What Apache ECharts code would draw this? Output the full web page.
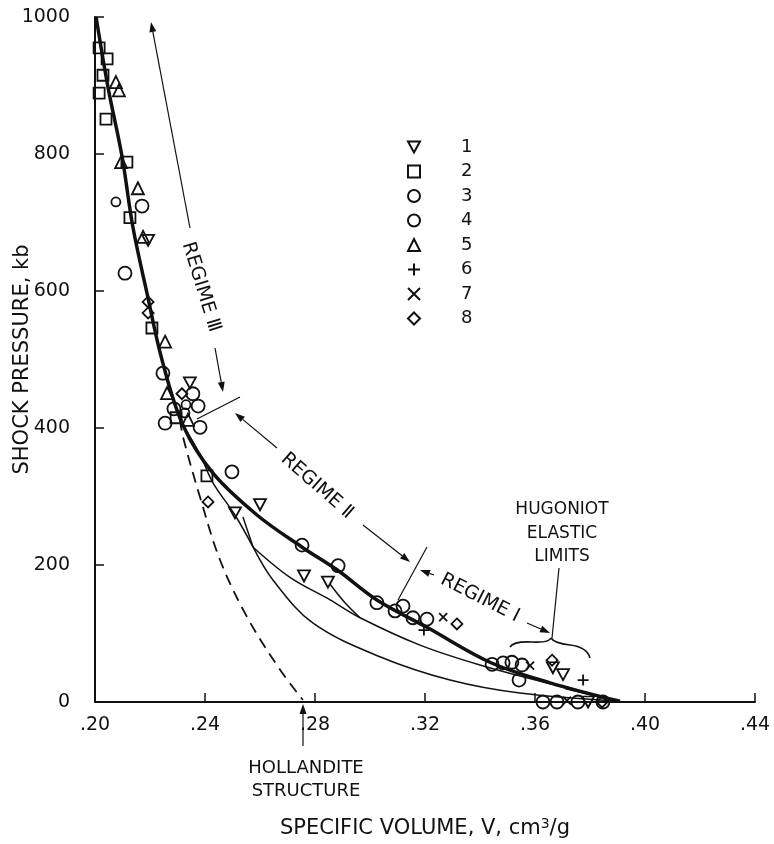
<!DOCTYPE html>
<html>
<head>
<meta charset="utf-8">
<script src="https://cdn.jsdelivr.net/npm/echarts@6/dist/echarts.min.js"></script>
<style>
  html, body { margin: 0; padding: 0; background: #fff; }
  #chart { width: 774px; height: 844px; }
</style>
</head>
<body>
<div id="chart"></div>
<script>
// specific volume (cm3/g) , shock pressure (kb)
const triDown = [[0.2345,466],[0.2509,276],[0.2600,288],[0.2760,184],[0.2847,175],[0.2193,674],[0.3665,50],[0.3702,40],[0.3793,0]];
const squares = [[0.2015,955],[0.2044,939],[0.2029,915],[0.2015,889],[0.2040,851],[0.2116,788],[0.2127,707],[0.2207,546],[0.2295,415],[0.2407,330]];
const bigCircles = [[0.2171,724],[0.2109,626],[0.2247,480],[0.2356,450],[0.2287,428],[0.2375,432],[0.2255,407],[0.2382,401],[0.2498,336],[0.2753,229],[0.2884,199],[0.3025,145],[0.3091,133],[0.3120,140],[0.3156,123],[0.3207,121],[0.3444,55],[0.3484,57],[0.3516,58],[0.3553,54],[0.3542,32],[0.3629,0],[0.3680,0],[0.3756,0],[0.3847,0]];
const smallCircles = [[0.2331,434],[0.2327,422],[0.2076,730]];
const triUp = [[0.2076,905],[0.2087,893],[0.2095,788],[0.2156,750],[0.2175,679],[0.2255,526],[0.2262,451],[0.2338,412]];
const plus = [[0.3196,105],[0.3775,32]];
const cross = [[0.3266,124],[0.3582,53],[0.3716,2]];
const diamonds = [[0.2193,584],[0.2193,568],[0.2316,450],[0.2411,292],[0.3316,114],[0.3662,61],[0.3844,0]];

// curves
const hugoniot = [[0.2004,1000],[0.2047,898],[0.2098,797],[0.2138,693],[0.2189,597],[0.2244,499],[0.2320,404],[0.2429,334],[0.2589,273],[0.2753,226],[0.2880,193],[0.3025,149],[0.3207,109],[0.3436,58],[0.3655,28],[0.3909,1]];
const fromJunction = [[0.2320,404],[0.2382,361],[0.2429,320],[0.2509,273],[0.2575,226]];
const releaseB = [[0.2538,270],[0.2575,226]];
const upperBranch = [[0.2575,226],[0.2709,182],[0.2855,149],[0.2964,123],[0.3182,83],[0.3400,54],[0.3662,26]];
const releaseC = [[0.2855,172],[0.2909,145],[0.2964,123]];
const lowerBranch = [[0.2575,226],[0.2647,178],[0.2793,115],[0.3036,66],[0.3291,32],[0.3545,13],[0.3909,1]];
const elasticSeg = [[0.3709,20],[0.3898,1.5]];
const hollandite = [[0.2309,412],[0.2320,387],[0.2382,299],[0.2455,207],[0.2553,124],[0.2673,47],[0.2756,3]];

const legendNames = ['1','2','3','4','5','6','7','8'];

const FONT = '"DejaVu Sans", sans-serif';
const ink = '#111';

const chart = echarts.init(document.getElementById('chart'));

const open = {color: 'rgba(255,255,255,0)', borderColor: ink, borderWidth: 1.8, opacity: 1};

function scatter(name, data, symbol, size){
    return {
        name: name, type: 'scatter', data: data, symbol: symbol, symbolSize: size,
        itemStyle: open, z: 5, silent: true
    };
}
function curve(data, width, dashed){
    return {
        type: 'line', data: data, smooth: 0.35, showSymbol: false, silent: true,
        lineStyle: {color: ink, width: width, type: dashed ? [11, 7] : 'solid'}, z: 3
    };
}

function arrow(x1, y1, x2, y2){
    const a = Math.atan2(y2 - y1, x2 - x1);
    const L = 10, W = 3.5;
    const bx = x2 - L * Math.cos(a), by = y2 - L * Math.sin(a);
    return [
        {type: 'line', shape: {x1: x1, y1: y1, x2: bx, y2: by}, style: {stroke: ink, lineWidth: 1.2}},
        {type: 'polygon', shape: {points: [[x2, y2],
            [bx + W * Math.sin(a), by - W * Math.cos(a)],
            [bx - W * Math.sin(a), by + W * Math.cos(a)]]}, style: {fill: ink}}
    ];
}
function seg(x1, y1, x2, y2){
    return {type: 'line', shape: {x1: x1, y1: y1, x2: x2, y2: y2}, style: {stroke: ink, lineWidth: 1.2}};
}
function bez(x1, y1, cx, cy, x2, y2){
    return {type: 'bezierCurve', shape: {x1: x1, y1: y1, cpx1: cx, cpy1: cy, x2: x2, y2: y2},
        style: {stroke: ink, fill: null, lineWidth: 1.6}};
}
function label(text, x, y, rot, size){
    return {type: 'text', x: x, y: y, rotation: rot || 0,
        style: {text: text, fill: ink, font: (size || 17) + 'px ' + FONT, align: 'center', verticalAlign: 'middle'}};
}

const graphics = [].concat(
    arrow(190, 228, 151, 22),
    label('REGIME Ⅲ', 201, 287, -1.27, 19),
    arrow(215, 348, 223, 392),
    seg(197, 419, 240, 397),
    arrow(277, 448, 235, 413),
    label('REGIME Ⅱ', 317, 486, -0.72, 19),
    arrow(363, 525, 410, 562),
    seg(427, 547, 398, 600),
    arrow(434, 575, 420, 570),
    label('REGIME Ⅰ', 480, 598, -0.47, 19),
    arrow(527, 623, 550, 633),
    label('HUGONIOT', 562, 510),
    label('ELASTIC', 562, 534),
    label('LIMITS', 562, 557),
    seg(559, 568, 552, 638),
    bez(510, 647, 514, 641, 532, 642),
    bez(532, 642, 549, 643, 551, 638),
    bez(551, 638, 554, 643, 570, 645),
    bez(570, 645, 587, 647, 590, 658),
    arrow(303, 746, 303, 704),
    label('HOLLANDITE', 306, 768, 0, 18),
    label('STRUCTURE', 306, 791, 0, 18)
);

chart.setOption({
    animation: false,
    backgroundColor: '#fff',
    grid: {left: 95, right: 19, top: 17, bottom: 142, outerBoundsMode: 'none', containLabel: false},
    legend: {
        data: legendNames,
        orient: 'vertical', left: 402, top: 133,
        itemWidth: 12, itemHeight: 12, itemGap: 6.5,
        textStyle: {fontFamily: FONT, fontSize: 18, color: ink, padding: [0, 0, 0, 36], lineHeight: 14},
        selectedMode: false
    },
    xAxis: {
        type: 'value', min: 0.2, max: 0.44, interval: 0.04,
        name: 'SPECIFIC VOLUME, V, cm{sup|3}/g',
        nameLocation: 'middle', nameGap: 115,
        nameTextStyle: {fontFamily: FONT, fontSize: 21, color: ink,
            rich: {sup: {fontFamily: FONT, fontSize: 14, verticalAlign: 'top', padding: [0, 0, 9, 0], color: ink}}},
        axisLine: {lineStyle: {color: ink, width: 2}},
        axisTick: {inside: true, length: 9, lineStyle: {color: ink, width: 1.5}},
        axisLabel: {fontFamily: FONT, fontSize: 19, color: ink, margin: 14,
            formatter: function(v){ return v.toFixed(2).replace(/^0/, ''); }},
        splitLine: {show: false}
    },
    yAxis: {
        type: 'value', min: 0, max: 1000, interval: 200,
        name: 'SHOCK PRESSURE, kb',
        nameLocation: 'middle', nameGap: 62, nameMoveOverlap: false,
        nameTextStyle: {fontFamily: FONT, fontSize: 21, color: ink},
        axisLine: {lineStyle: {color: ink, width: 2}},
        axisTick: {inside: true, length: 9, lineStyle: {color: ink, width: 1.5}},
        axisLabel: {fontFamily: FONT, fontSize: 19, color: ink, margin: 25,
            formatter: function(v){ return String(v); }},
        splitLine: {show: false}
    },
    series: [
        curve(hugoniot, 3.5),
        curve(fromJunction, 1.5),
        curve(releaseB, 1.5),
        curve(upperBranch, 1.5),
        curve(releaseC, 1.5),
        curve(lowerBranch, 1.5),
        curve(elasticSeg, 2.2),
        curve(hollandite, 1.8, true),
        scatter('1', triDown, 'path://M0,0 L10,0 L5,9 Z', [12, 11]),
        scatter('2', squares, 'rect', 11),
        scatter('3', bigCircles, 'circle', 13),
        scatter('4', smallCircles, 'circle', 9),
        scatter('5', triUp, 'triangle', 12),
        scatter('6', plus, 'path://M5,0 L5,10 M0,5 L10,5', 11),
        scatter('7', cross, 'path://M0,0 L10,10 M10,0 L0,10', 8),
        scatter('8', diamonds, 'diamond', 11)
    ],
    graphic: graphics
});
</script>
</body>
</html>
